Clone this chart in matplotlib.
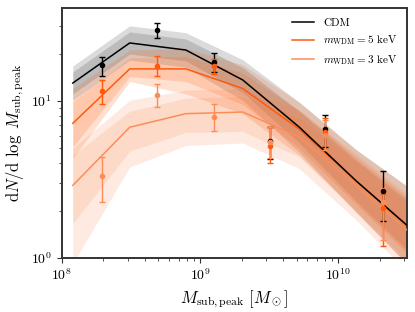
import matplotlib
matplotlib.use("Agg")
import numpy as np
from matplotlib import pyplot as plt

plt.rcParams['mathtext.fontset'] = 'cm'
plt.rcParams['font.family'] = 'serif'
plt.rcParams['font.serif'] = ['cmr10', 'DejaVu Serif']
plt.rcParams['axes.formatter.use_mathtext'] = True

# model curves (bin edges) and shaded bands
m_line = [1.2e8, 3.1e8, 7.9e8, 2.04e9, 5.25e9, 1.35e10, 3.47e10]

cdm_line = [13.0, 23.4, 21.1, 13.6, 6.8, 3.1, 1.5]
cdm_in_lo = [11.1, 19.9, 18.0, 11.3, 5.4, 2.3, 1.04]
cdm_in_hi = [15.3, 27.5, 24.8, 16.3, 8.6, 4.2, 2.2]
cdm_out_lo = [10.1, 18.2, 16.4, 10.1, 4.7, 1.96, 0.84]
cdm_out_hi = [16.7, 30.1, 27.2, 18.3, 9.8, 4.9, 2.7]

w5_line = [7.2, 16.0, 16.0, 12.0, 6.6, 3.1, 1.5]
w5_in_lo = [5.1, 14.3, 13.3, 9.5, 5.0, 2.2, 0.99]
w5_in_hi = [9.9, 18.8, 19.2, 15.1, 8.7, 4.4, 2.3]
w5_out_lo = [4.3, 13.3, 11.1, 8.3, 4.5, 1.96, 0.84]
w5_out_hi = [12.0, 21.1, 21.6, 17.0, 9.8, 4.9, 2.7]

w3_line = [2.9, 6.8, 8.3, 8.5, 5.9, 2.9, 1.4]
w3_in_lo = [1.66, 4.8, 6.3, 6.4, 4.4, 2.0, 0.88]
w3_in_hi = [4.5, 8.6, 10.4, 10.7, 7.8, 4.1, 2.1]
w3_out_lo = [0.92, 3.8, 5.2, 5.4, 3.7, 1.75, 0.75]
w3_out_hi = [5.0, 10.1, 11.7, 12.0, 8.7, 4.6, 2.4]

# measured points
m_pts = [1.95e8, 4.9e8, 1.26e9, 3.2e9, 8.1e9, 2.1e10]

cdm_y = [16.9, 28.3, 17.7, 5.6, 6.6, 2.68]
cdm_lo = [14.4, 25.3, 15.3, 4.3, 5.1, 1.73]
cdm_hi = [19.1, 31.2, 20.1, 6.8, 8.1, 3.6]

w5_y = [11.6, 16.8, 16.8, 5.2, 6.3, 2.09]
w5_lo = [9.6, 14.4, 14.8, 4.0, 4.87, 1.2]
w5_hi = [13.5, 19.2, 18.5, 6.8, 7.77, 2.56]

w3_y = [3.33, 10.9, 7.94, 5.5, 6.1, 2.28]
w3_lo = [2.28, 9.1, 6.4, 4.33, 4.9, 1.3]
w3_hi = [4.4, 12.8, 9.5, 6.85, 7.6, 2.8]

c_cdm = 'black'
c_w5 = '#ff5a0a'
c_w3 = '#fc8d59'

fig = plt.figure(figsize=(4.15, 3.12), dpi=100)
ax = fig.add_axes([0.149, 0.173, 0.832, 0.801])

# bands: CDM underneath, orange ones on top
bands = [
    (cdm_out_lo, cdm_out_hi, cdm_in_lo, cdm_in_hi, c_cdm, 0.14),
    (w3_out_lo, w3_out_hi, w3_in_lo, w3_in_hi, c_w3, 0.18),
    (w5_out_lo, w5_out_hi, w5_in_lo, w5_in_hi, c_w5, 0.18),
]
for olo, ohi, ilo, ihi, c, a in bands:
    ax.fill_between(m_line, olo, ohi, color=c, alpha=a, lw=0)
    ax.fill_between(m_line, ilo, ihi, color=c, alpha=a, lw=0)

ax.plot(m_line, w3_line, color=c_w3, lw=1.1, label=r'$m_{\rm WDM} = 3$ keV', zorder=3)
ax.plot(m_line, w5_line, color=c_w5, lw=1.1, label=r'$m_{\rm WDM} = 5$ keV', zorder=3)
ax.plot(m_line, cdm_line, color=c_cdm, lw=1.1, label='CDM', zorder=3)

for y, lo, hi, c in [(cdm_y, cdm_lo, cdm_hi, c_cdm), (w5_y, w5_lo, w5_hi, c_w5), (w3_y, w3_lo, w3_hi, c_w3)]:
    y = np.array(y)
    yerr = [y - np.array(lo), np.array(hi) - y]
    ax.errorbar(m_pts, y, yerr=yerr, fmt='o', color=c, ms=3, capsize=2, elinewidth=1, capthick=1, zorder=4)

ax.set_xscale('log')
ax.set_yscale('log')
ax.set_xlim(1e8, 3.16e10)
ax.set_ylim(1, 39)

ax.set_xlabel(r'$M_{\rm sub,peak}\ [M_\odot]$', fontsize=12)
ax.set_ylabel(r'${\rm d}N/{\rm d}\ \log\ M_{\rm sub,peak}$', fontsize=12)
ax.tick_params(which='both', direction='out', labelsize=10, color='#333333')
for s in ax.spines.values():
    s.set_linewidth(1.4)
    s.set_color('#333333')

h, l = ax.get_legend_handles_labels()
ax.legend(h[::-1], l[::-1], loc='upper right', frameon=False, fontsize=8)

fig.savefig('out.png', dpi=100)
